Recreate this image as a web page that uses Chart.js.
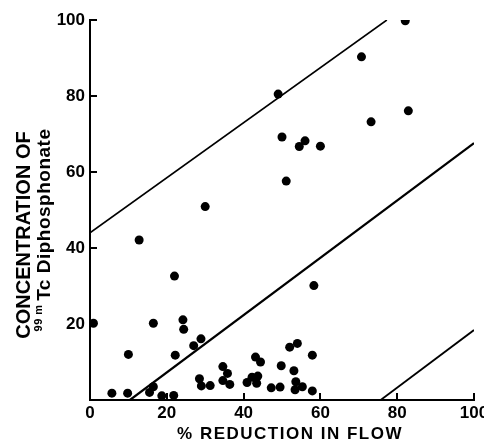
<!DOCTYPE html>
<html><head><meta charset="utf-8">
<script src="https://cdn.jsdelivr.net/npm/chart.js@4.4.0/dist/chart.umd.min.js"></script>
<style>html,body{margin:0;padding:0;background:#fff;}canvas{display:block;}</style>
</head><body>
<canvas id="c" width="484" height="441"></canvas>
<script>
const xTicks = [0, 20, 40, 60, 80, 100];
const yTicks = [0, 20, 40, 60, 80, 100];
const flowReduction = [0.9, 16.5, 10.0, 22.2, 5.7, 9.8, 15.5, 16.5, 18.7, 21.8, 22.0, 24.2, 24.4, 28.9, 27.0, 28.5, 29.0, 31.3, 34.6, 35.8, 34.6, 36.4, 40.9, 42.2, 43.7, 43.4, 43.1, 44.4, 47.2, 49.5, 49.8, 52.0, 54.0, 53.1, 53.6, 53.4, 55.3, 57.9, 57.9, 58.3, 49.0, 50.0, 54.5, 56.0, 60.0, 51.1, 30.0, 12.8, 82.1, 70.7, 82.9, 73.2];
const concentration = [20.2, 20.2, 12.0, 11.8, 1.8, 1.8, 2.0, 3.5, 1.1, 1.2, 32.6, 21.1, 18.6, 16.1, 14.3, 5.6, 3.7, 3.8, 8.8, 7.0, 5.1, 4.1, 4.6, 6.0, 6.3, 4.4, 11.3, 10.0, 3.2, 3.4, 9.0, 13.9, 14.9, 7.7, 4.8, 2.7, 3.5, 2.4, 11.8, 30.1, 80.5, 69.2, 66.7, 68.2, 66.8, 57.6, 50.9, 42.1, 99.8, 90.3, 76.1, 73.2];
const upperLineX = [0, 77.3], upperLineY = [44, 100];
const middleLineX = [10.4, 100], middleLineY = [0, 67.6];
const lowerLineX = [75.7, 100], lowerLineY = [0, 18.4];
const xTitle = '% REDUCTION IN FLOW';
const yTitle1 = 'CONCENTRATION OF';
const yTitleSup = '99 m';
const yTitle2 = 'Tc Diphosphonate';

const FONT = '"Liberation Sans", Arial, sans-serif';
const pts = (xs, ys) => xs.map((x, i) => ({x, y: ys[i]}));

const decorPlugin = {
  id: 'decor',
  afterDraw(chart) {
    const ctx = chart.ctx;
    const area = chart.chartArea;
    const xs = chart.scales.x, ys = chart.scales.y;
    ctx.save();
    ctx.fillStyle = '#000';
    xTicks.forEach(v => {
      if (v === 0) return;
      const px = Math.round(xs.getPixelForValue(v));
      ctx.fillRect(px - 1, area.bottom - 7, 2, 8);
    });
    yTicks.forEach(v => {
      if (v === 0) return;
      const py = Math.round(ys.getPixelForValue(v));
      ctx.fillRect(area.left - 1, py - 1, 8, 2);
    });
    ctx.restore();

    ctx.save();
    ctx.fillStyle = '#000';
    ctx.font = 'bold 17px ' + FONT;
    ctx.letterSpacing = '1.5px';
    ctx.textAlign = 'center';
    ctx.textBaseline = 'alphabetic';
    ctx.fillText(xTitle, 290, 439);
    ctx.save();
    ctx.translate(30, 235);
    ctx.rotate(-Math.PI / 2);
    ctx.letterSpacing = '0px';
    ctx.font = 'bold 20px ' + FONT;
    ctx.textAlign = 'center';
    ctx.fillText(yTitle1, 0, 0);
    ctx.restore();
    ctx.save();
    ctx.translate(50, 230);
    ctx.rotate(-Math.PI / 2);
    ctx.letterSpacing = '0.5px';
    ctx.textAlign = 'left';
    ctx.font = 'bold 11px ' + FONT;
    const supW = ctx.measureText(yTitleSup + ' ').width;
    ctx.font = 'bold 19px ' + FONT;
    const mainW = ctx.measureText(yTitle2).width;
    const start = -(supW + mainW) / 2;
    ctx.font = 'bold 11px ' + FONT;
    ctx.fillText(yTitleSup, start, -8);
    ctx.font = 'bold 19px ' + FONT;
    ctx.fillText(yTitle2, start + supW, 0);
    ctx.restore();
    ctx.restore();
  }
};

const tickFont = {family: FONT, size: 17, weight: 'bold'};

new Chart(document.getElementById('c'), {
  type: 'scatter',
  data: {
    datasets: [
      {data: pts(flowReduction, concentration), pointRadius: 4.5, pointHoverRadius: 4.5, backgroundColor: '#000', borderColor: '#000', borderWidth: 0},
      {data: pts(upperLineX, upperLineY), showLine: true, pointRadius: 0, borderColor: '#000', borderWidth: 1.6, fill: false},
      {data: pts(middleLineX, middleLineY), showLine: true, pointRadius: 0, borderColor: '#000', borderWidth: 2.2, fill: false},
      {data: pts(lowerLineX, lowerLineY), showLine: true, pointRadius: 0, borderColor: '#000', borderWidth: 1.8, fill: false}
    ]
  },
  options: {
    responsive: false,
    animation: false,
    devicePixelRatio: 1,
    layout: {padding: {top: 20, right: 10, left: 0, bottom: 0}},
    plugins: {legend: {display: false}, tooltip: {enabled: false}},
    scales: {
      x: {
        type: 'linear', min: 0, max: 100,
        afterBuildTicks(s) { s.ticks = xTicks.map(v => ({value: v})); },
        ticks: {font: tickFont, color: '#000', padding: 3, maxRotation: 0},
        grid: {drawOnChartArea: false, drawTicks: false},
        border: {color: '#000', width: 2},
        afterFit(s) { s.height = 41; s.paddingLeft = 0; s.paddingRight = 0; }
      },
      y: {
        type: 'linear', min: 0, max: 100,
        afterBuildTicks(s) { s.ticks = yTicks.map(v => ({value: v})); },
        ticks: {font: tickFont, color: '#000', padding: 5, callback: v => v === 0 ? '' : String(v)},
        grid: {drawOnChartArea: false, drawTicks: false},
        border: {color: '#000', width: 2},
        afterFit(s) { s.width = 90; s.paddingTop = 0; s.paddingBottom = 0; }
      }
    }
  },
  plugins: [decorPlugin]
});
</script>
</body></html>
